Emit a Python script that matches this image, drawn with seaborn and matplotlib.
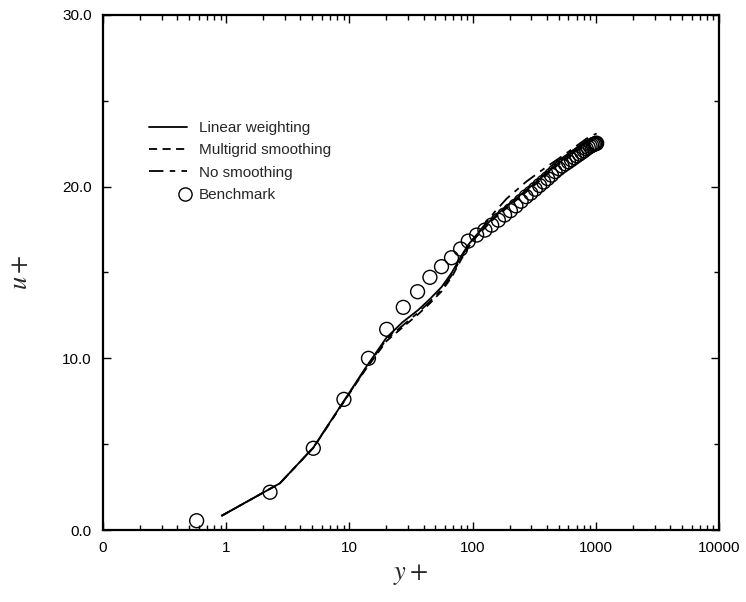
import numpy as np
import pandas as pd
import matplotlib
matplotlib.use("Agg")
import matplotlib.pyplot as plt
import seaborn as sns
from matplotlib.ticker import FixedLocator, FixedFormatter, LogLocator, MultipleLocator, NullFormatter
from matplotlib.legend_handler import HandlerLine2D
from matplotlib.lines import Line2D

# ---------------- data ----------------
bench_y = [0.576, 2.27, 5.1, 9.04, 14.3, 20.1, 27.4, 35.8, 45.1, 56.0, 67.5, 80.0, 92.3,
           108, 126, 143, 162, 182, 203, 225, 248, 272, 297, 323, 350, 378, 407, 437,
           468, 500, 533, 566, 600, 634, 668, 702, 736, 770, 804, 838, 870, 900, 928,
           954, 976, 994, 1008, 1018]
bench_u = [0.54, 2.2, 4.76, 7.61, 10.0, 11.69, 12.97, 13.88, 14.72, 15.34, 15.86, 16.37, 16.83,
           17.18, 17.47, 17.76, 18.05, 18.35, 18.6, 18.88, 19.15, 19.42, 19.62, 19.85, 20.07,
           20.27, 20.47, 20.67, 20.88, 21.05, 21.2, 21.33, 21.45, 21.57, 21.69, 21.8, 21.9,
           22.0, 22.1, 22.2, 22.28, 22.35, 22.4, 22.45, 22.48, 22.5, 22.52, 22.53]

lin_y = [0.92, 2.73, 5.1, 9.0, 13.4, 20, 27, 36, 45, 56, 68, 80, 92, 108, 126, 150,
         189, 258, 352, 481, 656, 842, 1016]
lin_u = [0.83, 2.72, 4.8, 7.5, 9.4, 11.2, 12.1, 12.8, 13.45, 14.15, 15.0, 15.9, 16.6,
         17.2, 17.7, 18.25, 18.85, 19.65, 20.45, 21.3, 22.0, 22.6, 22.9]

mg_y = [0.92, 2.73, 5.1, 9.0, 13.4, 20, 27, 36, 45, 56, 68, 80, 92, 108, 126, 150,
        189, 258, 352, 481, 656, 842, 1016]
mg_u = [0.83, 2.72, 4.78, 7.45, 9.3, 11.0, 11.8, 12.55, 13.2, 13.9, 14.75, 15.7, 16.45,
        17.1, 17.6, 18.15, 18.75, 19.55, 20.35, 21.2, 21.9, 22.5, 22.8]

ns_y = [0.92, 2.73, 5.1, 9.0, 13.4, 20, 27, 36, 45, 56, 68, 80, 92, 108, 126, 150,
        189, 274, 398, 579, 842, 1016]
ns_u = [0.83, 2.72, 4.8, 7.48, 9.35, 11.1, 11.9, 12.65, 13.3, 14.0, 14.85, 15.8, 16.55,
        17.2, 17.8, 18.5, 19.3, 20.3, 21.15, 21.95, 22.8, 23.1]

xtick_vals = [0.1, 1, 10, 100, 1000, 10000]
xtick_labels = ["0", "1", "10", "100", "1000", "10000"]
ytick_vals = [0, 10, 20, 30]
ytick_labels = ["0.0", "10.0", "20.0", "30.0"]

labels = ["Linear weighting", "Multigrid smoothing", "No smoothing", "Benchmark"]

# ---------------- figure ----------------
sns.set_style("ticks")
plt.rcParams["font.family"] = ["Liberation Sans", "DejaVu Sans"]
plt.rcParams["mathtext.fontset"] = "stix"

fig = plt.figure(figsize=(7.46, 6.02), dpi=100)
ax = fig.add_axes([0.138, 0.1196, 0.8257, 0.8555])

lw = 1.3
dash_mg = (0, (4.5, 3.0))
dash_ns = (0, (8, 3.5, 3, 3.5))
sns.lineplot(x=lin_y, y=lin_u, ax=ax, color="black", lw=lw, sort=False, estimator=None,
             linestyle="-")
sns.lineplot(x=mg_y, y=mg_u, ax=ax, color="black", lw=lw, sort=False, estimator=None,
             linestyle=dash_mg)
sns.lineplot(x=ns_y, y=ns_u, ax=ax, color="black", lw=lw, sort=False, estimator=None,
             linestyle=dash_ns)
sns.scatterplot(x=bench_y, y=bench_u, ax=ax, marker="o", s=100, facecolor="none",
                edgecolor="black", linewidth=1.0, zorder=3)

ax.set_xscale("log")
ax.set_xlim(0.1, 10000)
ax.set_ylim(0, 30)

ax.xaxis.set_major_locator(FixedLocator(xtick_vals))
ax.xaxis.set_major_formatter(FixedFormatter(xtick_labels))
ax.xaxis.set_minor_locator(LogLocator(base=10, subs=np.arange(2, 10), numticks=20))
ax.xaxis.set_minor_formatter(NullFormatter())
ax.yaxis.set_major_locator(FixedLocator(ytick_vals))
ax.yaxis.set_major_formatter(FixedFormatter(ytick_labels))
ax.yaxis.set_minor_locator(MultipleLocator(5))

ax.tick_params(which="both", direction="in", top=True, right=True, width=1.0, colors="black")
ax.tick_params(which="major", length=6, labelsize=11)
ax.tick_params(which="minor", length=3.5)
ax.tick_params(axis="y", which="major", pad=8)
ax.tick_params(axis="x", which="major", pad=8)
for sp in ax.spines.values():
    sp.set_linewidth(1.6)
    sp.set_color("black")

ax.set_xlabel(r"$y+$", fontsize=19)
ax.set_ylabel(r"$u+$", fontsize=19)
ax.xaxis.set_label_coords(0.5, -0.062)
ax.yaxis.set_label_coords(-0.115, 0.5)


class RightMarker(HandlerLine2D):
    def get_xdata(self, legend, xdescent, ydescent, width, height, fontsize):
        xm = width - xdescent - 1.5
        return np.array([xm - 1.0, xm + 1.0]), np.array([xm])


handles = [
    Line2D([], [], color="black", lw=lw, linestyle="-"),
    Line2D([], [], color="black", lw=lw, linestyle=dash_mg),
    Line2D([], [], color="black", lw=lw, linestyle=dash_ns),
    Line2D([], [], color="black", lw=0, marker="o", markersize=9.5, markerfacecolor="none",
           markeredgecolor="black"),
]
ax.legend(handles, labels, loc="upper left", bbox_to_anchor=(0.065, 0.806),
          frameon=False, fontsize=11, handlelength=2.5, handletextpad=0.75,
          labelspacing=0.55, borderaxespad=0,
          handler_map={handles[3]: RightMarker()})

fig.savefig("out.png", dpi=100)
